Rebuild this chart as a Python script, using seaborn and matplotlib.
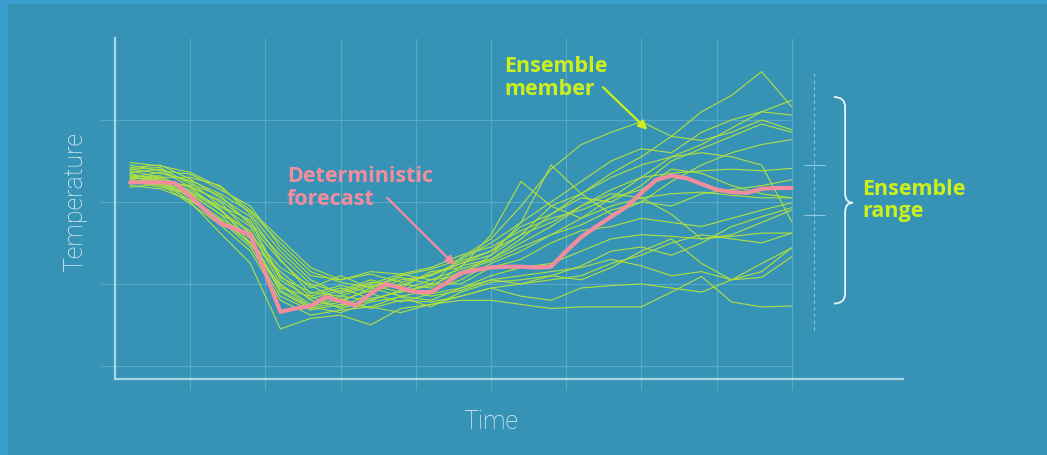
import numpy as np
import pandas as pd
import matplotlib
matplotlib.use("Agg")
import matplotlib.pyplot as plt
from matplotlib.patches import Rectangle, PathPatch
from matplotlib.path import Path
import seaborn as sns

# ---- data (x in time steps, y in arbitrary temperature units) ----
member_steps = list(range(1, 46, 2))

members = {
    "m01": [2.45, 2.38, 2.34, 2.15, 1.95, 1.45, 1.10, 1.05, 1.12, 1.02, 1.10, 1.25,
            1.35, 1.60, 1.95, 2.10, 2.35, 2.55, 2.80, 3.10, 3.30, 3.59, 3.16],
    "m02": [2.40, 2.42, 2.22, 2.08, 1.72, 1.28, 0.95, 1.10, 0.95, 1.08, 1.00, 1.32,
            1.55, 1.95, 2.40, 2.70, 2.85, 2.98, 2.80, 2.75, 2.85, 3.00, 2.88],
    "m03": [2.30, 2.36, 2.25, 1.95, 1.78, 1.05, 0.82, 0.92, 1.05, 0.95, 1.15, 1.20,
            1.60, 2.25, 1.95, 1.80, 2.05, 2.30, 2.55, 2.70, 2.90, 3.10, 3.24],
    "m04": [2.38, 2.30, 2.30, 2.20, 1.85, 1.40, 1.05, 0.88, 1.00, 1.12, 1.05, 1.10,
            1.35, 1.75, 2.45, 2.10, 1.85, 2.00, 2.25, 2.45, 2.60, 2.70, 2.76],
    "m05": [2.28, 2.30, 2.10, 1.85, 1.65, 1.00, 0.75, 0.85, 0.80, 0.92, 1.05, 1.18,
            1.30, 1.55, 1.85, 2.10, 2.30, 2.45, 2.55, 2.60, 2.55, 2.45, 1.76],
    "m06": [2.35, 2.25, 2.20, 2.00, 1.60, 1.20, 0.98, 0.80, 0.92, 1.00, 0.95, 1.22,
            1.30, 1.50, 1.70, 1.95, 2.15, 2.30, 2.35, 2.38, 2.40, 2.38, 2.41],
    "m07": [2.25, 2.28, 2.05, 1.80, 1.58, 0.90, 0.70, 0.78, 0.95, 0.85, 0.92, 1.05,
            1.25, 1.40, 1.60, 1.80, 1.95, 2.05, 2.10, 2.12, 2.08, 2.05, 2.05],
    "m08": [2.32, 2.22, 2.15, 1.92, 1.50, 1.15, 0.85, 0.95, 0.82, 0.90, 1.00, 1.00,
            1.20, 1.30, 1.50, 1.65, 1.70, 1.80, 1.75, 1.70, 1.80, 1.90, 1.99],
    "m09": [2.42, 2.45, 2.28, 2.05, 1.82, 1.30, 0.88, 0.98, 0.90, 1.05, 1.10, 1.28,
            1.40, 1.60, 1.75, 1.95, 2.10, 2.05, 1.85, 1.55, 1.60, 1.75, 1.90],
    "m10": [2.20, 2.16, 2.02, 1.78, 1.45, 0.85, 0.68, 0.75, 0.72, 0.85, 0.80, 0.95,
            1.10, 1.20, 1.25, 1.40, 1.55, 1.60, 1.58, 1.55, 1.58, 1.62, 1.62],
    "m11": [2.30, 2.32, 2.12, 1.95, 1.70, 1.10, 0.80, 0.72, 0.88, 0.78, 0.88, 0.95,
            1.05, 1.00, 1.10, 1.05, 1.20, 1.40, 1.55, 1.25, 1.05, 1.15, 1.44],
    "m12": [2.28, 2.20, 2.12, 1.90, 1.55, 0.95, 0.85, 0.70, 0.80, 0.92, 0.85, 0.92,
            1.05, 1.10, 1.15, 1.20, 1.30, 1.22, 1.10, 1.15, 1.05, 1.08, 1.33],
    "m13": [2.18, 2.22, 1.98, 1.72, 1.40, 0.80, 0.62, 0.68, 0.72, 0.65, 0.75, 0.80,
            0.80, 0.75, 0.70, 0.72, 0.72, 0.72, 0.90, 1.09, 0.78, 0.72, 0.73],
    "m14": [2.26, 2.18, 2.10, 1.85, 1.48, 0.98, 0.72, 0.82, 0.70, 0.80, 0.78, 0.85,
            0.95, 0.85, 0.80, 0.95, 0.98, 1.00, 0.95, 0.90, 1.05, 1.25, 1.44],
    "m15": [2.36, 2.40, 2.18, 2.02, 1.75, 1.35, 1.00, 0.90, 1.02, 0.98, 1.12, 1.25,
            1.40, 1.70, 1.85, 2.05, 2.00, 2.20, 2.50, 2.65, 2.80, 2.95, 2.85],
    "m16": [2.30, 2.25, 2.18, 1.90, 1.62, 1.08, 0.90, 0.85, 0.98, 0.90, 0.98, 1.15,
            1.28, 1.45, 1.60, 1.72, 1.90, 2.00, 1.95, 2.10, 2.15, 2.20, 2.27],
    "m17": [2.40, 2.35, 2.26, 2.10, 1.88, 1.50, 1.15, 1.02, 0.96, 1.10, 1.18, 1.30,
            1.50, 1.75, 2.00, 2.25, 2.50, 2.65, 2.60, 2.85, 3.00, 3.10, 3.06],
    "m18": [2.22, 2.24, 2.02, 1.78, 1.50, 0.92, 0.72, 0.65, 0.78, 0.84, 0.72, 0.90,
            1.02, 1.05, 1.10, 1.22, 1.40, 1.45, 1.35, 1.50, 1.70, 1.82, 1.93],
    "m19": [2.33, 2.28, 2.00, 1.62, 1.25, 0.45, 0.58, 0.62, 0.50, 0.70, 0.75, 0.85,
            0.95, 1.00, 1.05, 1.10, 1.25, 1.35, 1.50, 1.60, 1.55, 1.50, 1.62],
    "m20": [2.48, 2.44, 2.36, 2.18, 1.90, 1.55, 1.20, 1.05, 1.15, 1.12, 1.20, 1.35,
            1.45, 1.65, 1.80, 1.90, 2.05, 2.15, 2.40, 2.35, 2.20, 2.10, 2.05],
}

forecast_steps = list(range(1, 46))
forecast = [2.24, 2.24, 2.24, 2.23, 2.07, 1.90, 1.74, 1.67, 1.60, 1.13, 0.66, 0.70,
            0.73, 0.84, 0.79, 0.74, 0.88, 1.00, 0.95, 0.90, 0.90, 1.01, 1.13, 1.17,
            1.20, 1.21, 1.21, 1.20, 1.21, 1.40, 1.57, 1.70, 1.82, 1.94, 2.11, 2.27,
            2.32, 2.29, 2.22, 2.15, 2.12, 2.11, 2.16, 2.17, 2.17]

# ensemble spread markers on the right
spread_ticks = [2.45, 1.84]

# ---- colours ----
BORDER = "#3a9fd0"
BG = "#3793b6"
GRID = "#58a9c8"
SPINE = "#a6d6e2"
MEMBER = "#b0e040"
LIME = "#cdf01c"
PINK = "#f28d9e"
WHITE = "#e8f4f7"

sns.set_theme(style="white")
plt.rcParams["font.family"] = ["Open Sans", "DejaVu Sans"]

fig = plt.figure(figsize=(10.47, 4.55), dpi=100, facecolor=BORDER)
fig.patches.append(Rectangle((8 / 1047, 0), 1, 451 / 455, transform=fig.transFigure,
                             facecolor=BG, edgecolor="none", zorder=-10))
ax = fig.add_axes([115 / 1047, 76 / 455, 788 / 1047, 341 / 455])
ax.set_facecolor("none")
ax.set_xlim(0, 52.4)
ax.set_ylim(-0.16, 4.0)

# grid drawn by hand so it can run past the spines like the original
for gx in range(5, 46, 5):
    ax.vlines(gx, -0.29, 4.0, color=GRID, lw=0.8, clip_on=False, zorder=1)
for gy in range(0, 4):
    ax.hlines(gy, -1.0, 45, color=GRID, lw=0.8, clip_on=False, zorder=1)

long = pd.DataFrame(
    [(name, t, v) for name, vals in members.items() for t, v in zip(member_steps, vals)],
    columns=["member", "time", "temp"],
)
sns.lineplot(data=long, x="time", y="temp", units="member", estimator=None,
             color=MEMBER, lw=0.8, ax=ax, zorder=2)
sns.lineplot(x=forecast_steps, y=forecast, color=PINK, lw=3.0, ax=ax, zorder=3)

for side in ["top", "right"]:
    ax.spines[side].set_visible(False)
for side in ["left", "bottom"]:
    ax.spines[side].set_color(SPINE)
    ax.spines[side].set_linewidth(1.6)
ax.set_xticks([])
ax.set_yticks([])
ax.set_xlabel("")
ax.set_ylabel("")

# dashed spread line with two marks
ax.vlines(46.5, 0.44, 3.59, color="#8cc9dc", lw=0.8, linestyles=(0, (3, 3)),
          clip_on=False, zorder=2)
for s in spread_ticks:
    ax.hlines(s, 45.8, 47.2, color="#8cc9dc", lw=0.8, clip_on=False, zorder=2)

# curly brace
bx0, bx1, bx2 = 47.8, 48.55, 49.05
yt, yb, ym = 3.28, 0.76, 1.99
verts = [
    (bx0, yt), (bx1, yt), (bx1, yt - 0.12),
    (bx1, ym + 0.12),
    (bx1, ym), (bx2, ym),
    (bx1, ym), (bx1, ym - 0.12),
    (bx1, yb + 0.12),
    (bx1, yb), (bx0, yb),
]
codes = [Path.MOVETO, Path.CURVE3, Path.CURVE3, Path.LINETO, Path.CURVE3, Path.CURVE3,
         Path.CURVE3, Path.CURVE3, Path.LINETO, Path.CURVE3, Path.CURVE3]
ax.add_patch(PathPatch(Path(verts, codes), facecolor="none", edgecolor=WHITE,
                       lw=1.3, clip_on=False, zorder=3))

# annotations
arrow_kw = dict(arrowstyle="-|>", lw=1.6, mutation_scale=13, shrinkA=0, shrinkB=0)
label_kw = dict(fontsize=15.5, fontweight="bold", ha="left", va="center",
                linespacing=1.1, clip_on=False)
ax.text(49.7, 2.02, "Ensemble\nrange", color=LIME, **label_kw)
ax.text(25.9, 3.51, "Ensemble\nmember", color=LIME, **label_kw)
ax.annotate("", xy=(35.4, 2.88), xytext=(32.45, 3.40),
            arrowprops=dict(color=LIME, **arrow_kw), annotation_clip=False)
ax.text(11.44, 2.17, "Deterministic\nforecast", color=PINK, **label_kw)
ax.annotate("", xy=(22.6, 1.23), xytext=(18.1, 2.05),
            arrowprops=dict(color=PINK, **arrow_kw), annotation_clip=False)

ax.text(-2.66, 2.0, "Temperature", rotation=90, color=WHITE, fontsize=18,
        fontweight="light", ha="center", va="center", clip_on=False,
        family=["Roboto", "DejaVu Sans"])
ax.text(25.0, -0.68, "Time", color=WHITE, fontsize=18, fontweight="light",
        ha="center", va="center", clip_on=False, family=["Roboto", "DejaVu Sans"])

fig.savefig("out.png", dpi=100, facecolor=fig.get_facecolor())
